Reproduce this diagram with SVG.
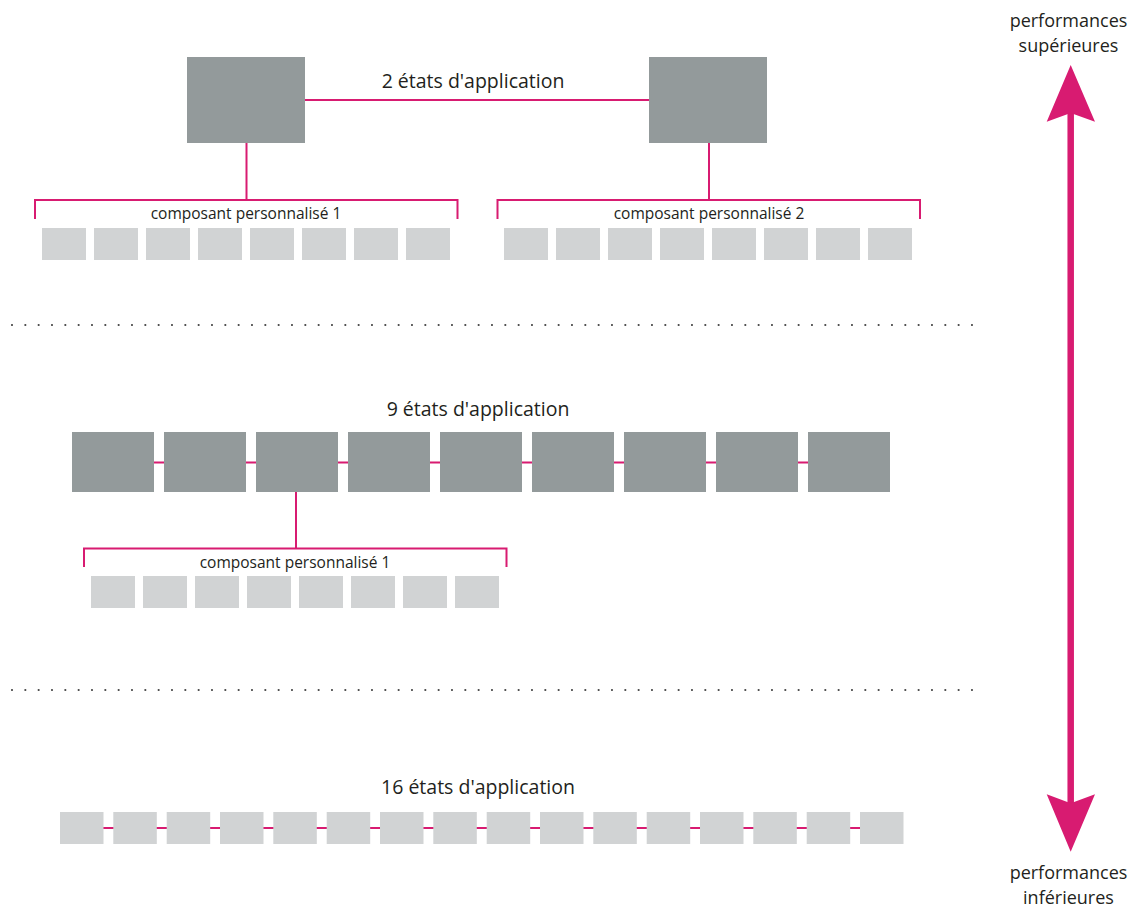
<svg xmlns="http://www.w3.org/2000/svg" width="1146" height="917" viewBox="0 0 1146 917">
<style>
.big{fill:#939a9b}
.small{fill:#d1d3d4}
.ln{stroke:#d81b71;stroke-width:2;fill:none}
.dots{stroke:#444;stroke-width:2.2;stroke-linecap:round;stroke-dasharray:0 13.333;fill:none}
.title{font-family:"Open Sans","Noto Sans",sans-serif;font-size:19.5px;fill:#231f20;text-anchor:middle}
.axis{font-family:"Open Sans","Noto Sans",sans-serif;font-size:18px;fill:#231f20;text-anchor:middle}
.lbl{font-family:"Open Sans","Noto Sans",sans-serif;font-size:15.5px;fill:#231f20;text-anchor:middle}
</style>
<rect width="1146" height="917" fill="#ffffff"/>
<g id="connectors">
<line class="ln" x1="305" y1="100" x2="649" y2="100"/>
<line class="ln" x1="246.5" y1="143" x2="246.5" y2="200"/>
<path class="ln" d="M35,219 V200 H457.5 V219"/>
<line class="ln" x1="709" y1="143" x2="709" y2="200"/>
<path class="ln" d="M497.5,219 V200 H920 V219"/>
<line class="ln" x1="72" y1="462.5" x2="890" y2="462.5"/>
<line class="ln" x1="296" y1="492" x2="296" y2="548.5"/>
<path class="ln" d="M84,567 V548.5 H506.5 V567"/>
<line class="ln" x1="60" y1="828" x2="903" y2="828"/>
</g>
<g id="separators">
<line class="dots" x1="12" y1="325" x2="980" y2="325"/>
<line class="dots" x1="12" y1="690" x2="980" y2="690"/>
</g>
<g id="section-2-states">
<text class="title" x="473" y="88">2 états d'application</text>
<rect id="state-a" class="big" x="187" y="57" width="118" height="86"/>
<rect id="state-b" class="big" x="649" y="57" width="118" height="86"/>
<g id="component-1">
<text class="lbl" x="246" y="219">composant personnalisé 1</text>
<rect class="small" x="42" y="228" width="44" height="32"/>
<rect class="small" x="94" y="228" width="44" height="32"/>
<rect class="small" x="146" y="228" width="44" height="32"/>
<rect class="small" x="198" y="228" width="44" height="32"/>
<rect class="small" x="250" y="228" width="44" height="32"/>
<rect class="small" x="302" y="228" width="44" height="32"/>
<rect class="small" x="354" y="228" width="44" height="32"/>
<rect class="small" x="406" y="228" width="44" height="32"/>
</g>
<g id="component-2">
<text class="lbl" x="709" y="219">composant personnalisé 2</text>
<rect class="small" x="504" y="228" width="44" height="32"/>
<rect class="small" x="556" y="228" width="44" height="32"/>
<rect class="small" x="608" y="228" width="44" height="32"/>
<rect class="small" x="660" y="228" width="44" height="32"/>
<rect class="small" x="712" y="228" width="44" height="32"/>
<rect class="small" x="764" y="228" width="44" height="32"/>
<rect class="small" x="816" y="228" width="44" height="32"/>
<rect class="small" x="868" y="228" width="44" height="32"/>
</g>
</g>
<g id="section-9-states">
<text class="title" x="478" y="416">9 états d'application</text>
<rect class="big" x="72" y="432" width="82" height="60"/>
<rect class="big" x="164" y="432" width="82" height="60"/>
<rect class="big" x="256" y="432" width="82" height="60"/>
<rect class="big" x="348" y="432" width="82" height="60"/>
<rect class="big" x="440" y="432" width="82" height="60"/>
<rect class="big" x="532" y="432" width="82" height="60"/>
<rect class="big" x="624" y="432" width="82" height="60"/>
<rect class="big" x="716" y="432" width="82" height="60"/>
<rect class="big" x="808" y="432" width="82" height="60"/>
<g id="component-1b">
<text class="lbl" x="295" y="568">composant personnalisé 1</text>
<rect class="small" x="91" y="576" width="44" height="32"/>
<rect class="small" x="143" y="576" width="44" height="32"/>
<rect class="small" x="195" y="576" width="44" height="32"/>
<rect class="small" x="247" y="576" width="44" height="32"/>
<rect class="small" x="299" y="576" width="44" height="32"/>
<rect class="small" x="351" y="576" width="44" height="32"/>
<rect class="small" x="403" y="576" width="44" height="32"/>
<rect class="small" x="455" y="576" width="44" height="32"/>
</g>
</g>
<g id="section-16-states">
<text class="title" x="478" y="794">16 états d'application</text>
<rect class="small" x="60" y="812" width="43.5" height="32"/>
<rect class="small" x="113.3" y="812" width="43.5" height="32"/>
<rect class="small" x="166.7" y="812" width="43.5" height="32"/>
<rect class="small" x="220" y="812" width="43.5" height="32"/>
<rect class="small" x="273.3" y="812" width="43.5" height="32"/>
<rect class="small" x="326.7" y="812" width="43.5" height="32"/>
<rect class="small" x="380" y="812" width="43.5" height="32"/>
<rect class="small" x="433.3" y="812" width="43.5" height="32"/>
<rect class="small" x="486.7" y="812" width="43.5" height="32"/>
<rect class="small" x="540" y="812" width="43.5" height="32"/>
<rect class="small" x="593.3" y="812" width="43.5" height="32"/>
<rect class="small" x="646.7" y="812" width="43.5" height="32"/>
<rect class="small" x="700" y="812" width="43.5" height="32"/>
<rect class="small" x="753.3" y="812" width="43.5" height="32"/>
<rect class="small" x="806.7" y="812" width="43.5" height="32"/>
<rect class="small" x="860" y="812" width="43.5" height="32"/>
</g>
<g id="performance-axis">
<line x1="1070.7" y1="110" x2="1070.7" y2="806" stroke="#d81b71" stroke-width="6.5"/>
<polygon points="1070.7,65 1095,121.7 1070.7,113 1046.7,121.7" fill="#d81b71"/>
<polygon points="1070.7,851.7 1095,794.3 1070.7,803.3 1046.7,794.3" fill="#d81b71"/>
<text class="axis" x="1068.5" y="27">performances</text>
<text class="axis" x="1068.5" y="52">supérieures</text>
<text class="axis" x="1068.5" y="879">performances</text>
<text class="axis" x="1068.5" y="904">inférieures</text>
</g>
</svg>
